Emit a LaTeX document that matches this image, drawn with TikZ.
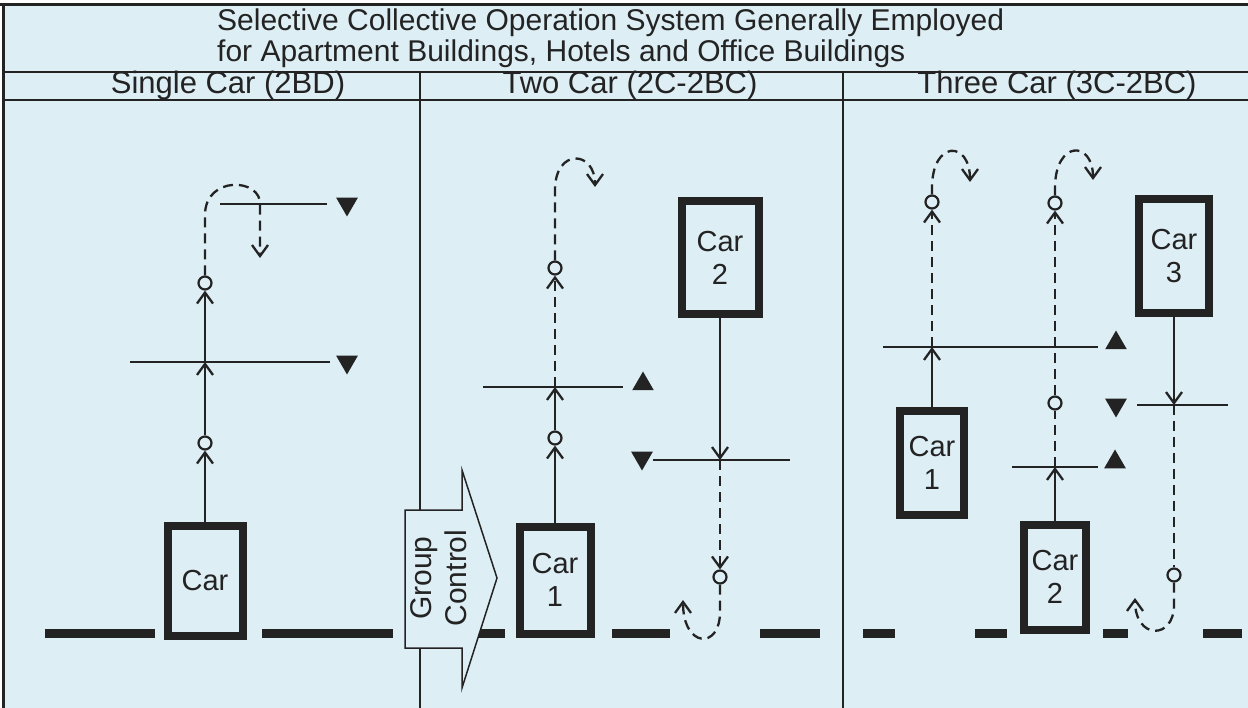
\documentclass[tikz,border=0pt]{standalone}
\usepackage{fontspec}
\setmainfont{Liberation Sans}
\usepackage{tikz}
\usetikzlibrary{arrows.meta, shapes.geometric, positioning, calc}
\definecolor{PaperBlue}{RGB}{221,238,245}
\definecolor{InkGray}{RGB}{35,35,35}

\begin{document}
\begin{tikzpicture}[x=1pt, y=-1pt, InkGray,
    carbox/.style={draw, line width=8pt, fill=PaperBlue, inner sep=0pt, align=center,
                   font=\fontsize{29}{33}\selectfont},
    stopring/.style={circle, draw, line width=2.2pt, fill=PaperBlue, inner sep=0pt, minimum size=13pt},
    uptri/.style={regular polygon, regular polygon sides=3, fill=InkGray, inner sep=0pt, minimum size=25pt},
    dntri/.style={uptri, shape border rotate=180},
    callline/.style={line width=1.8pt},
    travel/.style={line width=2.3pt, -{Straight Barb[length=11pt, width=16pt, line width=2.3pt]}},
    dashtravel/.style={travel, dash pattern=on 10pt off 6pt},
    dashplain/.style={line width=2.3pt, dash pattern=on 10pt off 6pt},
    landing/.style={line width=9pt},
    heading/.style={font=\fontsize{31}{32}\selectfont}]

      \useasboundingbox (0,0) rectangle (1248,708);
      \fill[white] (0,0) rectangle (1248,708);
      \fill[PaperBlue] (3,5) rectangle (1248,708);

      \draw[line width=3pt] (0,5) -- (1248,5);
      \draw[line width=3pt] (3,5) -- (3,708);
      \draw[line width=2pt] (3,72) -- (1248,72);
      \draw[line width=2pt] (3,100) -- (1248,100);
      \draw[line width=2pt] (420,72) -- (420,708);
      \draw[line width=2pt] (843,72) -- (843,708);

      \node[anchor=north west, align=left, inner sep=0pt, font=\fontsize{30}{31}\selectfont]
            (title) at (217,9)
            {Selective Collective Operation System Generally Employed\\
             for Apartment Buildings, Hotels and Office Buildings};
      \node[heading] (head1) at (228,85) {Single Car (2BD)};
      \node[heading] (head2) at (630,85) {Two Car (2C-2BC)};
      \node[heading] (head3) at (1057,85) {Three Car (3C-2BC)};

      \foreach \a/\b in {45/155, 262/393, 462/505, 612/670, 760/820,
                         863/895, 975/1007, 1103/1128, 1203/1242}
        \draw[landing] (\a,633) -- (\b,633);

      % single car
      \node[carbox, minimum width=75pt, minimum height=110pt] (carA) at (205,581) {Car};
      \node[stopring] (sA1) at (205,443) {};
      \node[stopring] (sA2) at (205,283) {};
      \coordinate (xA1) at (205,362);
      \coordinate (eA) at (260,258);
      \draw[callline] (130,362) -- (330,362);
      \draw[callline] (220,204) -- (327,204);
      \node[dntri] (tA1) at (347,362) {};
      \node[dntri] (tA2) at (347,204) {};
      \draw[travel] (carA) -- (sA1);
      \draw[travel] (sA1) -- (xA1);
      \draw[travel] (xA1) -- (sA2);
      \draw[dashtravel] (sA2) -- (205,215) .. controls (205,175) and (262,178) .. (260,205) -- (eA);

      % two car
      \node[carbox, minimum width=71pt, minimum height=107pt] (carB1) at (555,580) {Car\\1};
      \node[carbox, minimum width=77pt, minimum height=113pt] (carB2) at (720,258) {Car\\2};
      \node[stopring] (sB1) at (555,438) {};
      \node[stopring] (sB2) at (555,268) {};
      \node[stopring] (sB3) at (720,577) {};
      \coordinate (xB1) at (555,387);
      \coordinate (xB2) at (720,460);
      \coordinate (eB1) at (595,187);
      \coordinate (eB2) at (683,600);
      \draw[callline] (483,387) -- (623,387);
      \draw[callline] (653,460) -- (790,460);
      \node[uptri] (tB1) at (643,384) {};
      \node[dntri] (tB2) at (642,458) {};
      \draw[travel] (carB1) -- (sB1);
      \draw[travel] (sB1) -- (xB1);
      \draw[dashtravel] (xB1) -- (sB2);
      \draw[dashtravel] (sB2) -- (555,190) .. controls (555,148) and (595,150) .. (eB1);
      \draw[travel] (carB2) -- (xB2);
      \draw[dashtravel] (xB2) -- (sB3);
      \draw[dashtravel] (sB3) -- (720,612) .. controls (720,650) and (683,648) .. (eB2);

      \draw[line width=1.5pt, fill=PaperBlue] (405,510) -- (462,510) -- (462,470) -- (497,578)
            -- (462,688) -- (462,648) -- (405,648) -- cycle;
      \node[rotate=90, align=center, font=\fontsize{30}{35}\selectfont] (group) at (439,578)
            {Group\\Control};

      % three car
      \node[carbox, minimum width=64pt, minimum height=103pt] (carC1) at (932,463) {Car\\1};
      \node[carbox, minimum width=62pt, minimum height=105pt] (carC2) at (1055,577) {Car\\2};
      \node[carbox, minimum width=70pt, minimum height=114pt] (carC3) at (1174,256) {Car\\3};
      \node[stopring] (sC1) at (932,202) {};
      \node[stopring] (sC2) at (1055,403) {};
      \node[stopring] (sC3) at (1055,203) {};
      \node[stopring] (sC4) at (1174,575) {};
      \coordinate (xC1) at (932,347);
      \coordinate (xC2) at (1055,467);
      \coordinate (xC3) at (1174,405);
      \coordinate (eC1) at (970,182);
      \coordinate (eC2) at (1093,180);
      \coordinate (eC3) at (1135,598);
      \draw[callline] (883,347) -- (1098,347);
      \draw[callline] (1012,467) -- (1098,467);
      \draw[callline] (1137,405) -- (1228,405);
      \node[uptri] (tC1) at (1116,343) {};
      \node[dntri] (tC2) at (1116,405) {};
      \node[uptri] (tC3) at (1115,462) {};
      \draw[travel] (carC1) -- (xC1);
      \draw[dashtravel] (xC1) -- (sC1);
      \draw[dashtravel] (sC1) -- (932,188) .. controls (932,140) and (970,140) .. (eC1);
      \draw[travel] (carC2) -- (xC2);
      \draw[dashplain] (xC2) -- (sC2);
      \draw[dashtravel] (sC2) -- (sC3);
      \draw[dashtravel] (sC3) -- (1055,188) .. controls (1055,140) and (1093,140) .. (eC2);
      \draw[travel] (carC3) -- (xC3);
      \draw[dashplain] (xC3) -- (sC4);
      \draw[dashtravel] (sC4) -- (1174,605) .. controls (1174,640) and (1135,640) .. (eC3);
    \end{tikzpicture}
\end{document}
